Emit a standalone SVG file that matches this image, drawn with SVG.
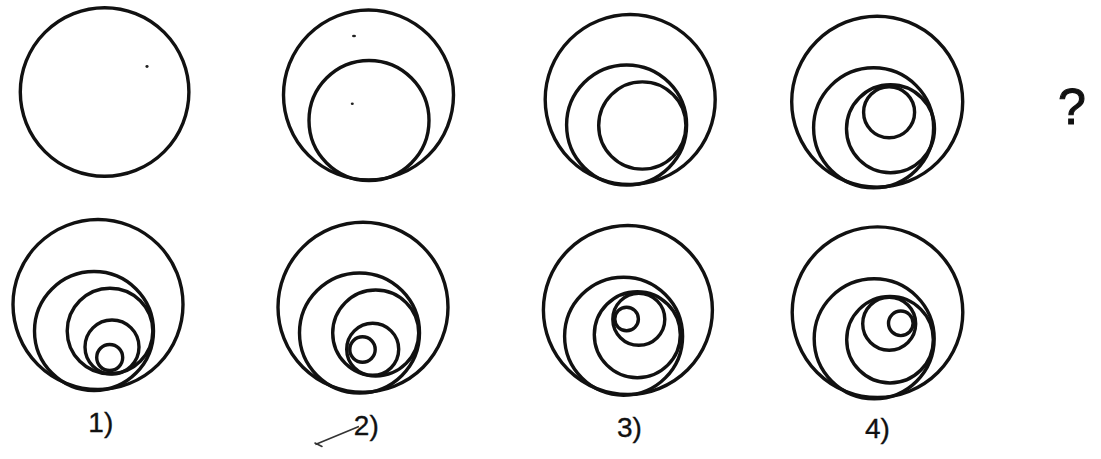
<svg xmlns="http://www.w3.org/2000/svg" width="1101" height="459" viewBox="0 0 1101 459">
<style>
.c{fill:none;stroke:#111;stroke-width:3.4}
.t{font-family:"Liberation Sans",Arial,sans-serif;fill:#111;stroke:#111;stroke-width:0.35;text-anchor:middle}
.lbl{font-size:28px}
.q{font-size:50px;stroke-width:1.1}
.dot{fill:#222}
</style>
<rect width="1101" height="459" fill="#ffffff"/>
<g id="figA">
<circle class="c" cx="104.6" cy="92" r="84.3"/>
<ellipse class="dot" cx="147" cy="66.5" rx="1.6" ry="1.4"/>
</g>
<g id="figB">
<circle class="c" cx="368.5" cy="95" r="85"/>
<circle class="c" cx="369" cy="120.5" r="60"/>
<ellipse class="dot" cx="354" cy="36" rx="2" ry="1.2"/>
<ellipse class="dot" cx="352.3" cy="103.7" rx="1.5" ry="1.3"/>
</g>
<g id="figC">
<circle class="c" cx="630.2" cy="99.5" r="85"/>
<circle class="c" cx="626.6" cy="125" r="60"/>
<circle class="c" cx="642.3" cy="125.5" r="43.6"/>
</g>
<g id="figD">
<circle class="c" cx="877.2" cy="101.7" r="85.5"/>
<circle class="c" cx="873.6" cy="127.8" r="60"/>
<circle class="c" cx="890.5" cy="128.8" r="44"/>
<circle class="c" cx="889.1" cy="112.3" r="25.5"/>
</g>
<g id="question">
<text class="t q" x="1072" y="123.5">?</text>
</g>
<g id="opt1">
<circle class="c" cx="98" cy="304.5" r="85"/>
<circle class="c" cx="94" cy="331" r="59.5"/>
<circle class="c" cx="110" cy="331" r="42.8"/>
<circle class="c" cx="112" cy="347" r="27"/>
<circle class="c" cx="109.7" cy="357.5" r="13"/>
<text class="t lbl" x="100.8" y="431.7">1)</text>
</g>
<g id="opt2">
<circle class="c" cx="363" cy="307.2" r="85"/>
<circle class="c" cx="359.5" cy="333" r="60"/>
<circle class="c" cx="375.7" cy="333" r="43"/>
<circle class="c" cx="372.7" cy="349.3" r="26"/>
<circle class="c" cx="362.5" cy="349.5" r="12.7"/>
<text class="t lbl" x="366.3" y="435">2)</text>
</g>
<g id="opt3">
<circle class="c" cx="627.9" cy="310" r="84.5"/>
<circle class="c" cx="623.6" cy="336.2" r="59"/>
<circle class="c" cx="637.3" cy="334.7" r="43"/>
<circle class="c" cx="638.8" cy="319.3" r="26"/>
<circle class="c" cx="626.6" cy="319" r="11.8"/>
<text class="t lbl" x="629.5" y="436.7">3)</text>
</g>
<g id="opt4">
<circle class="c" cx="877.5" cy="312.2" r="85.3"/>
<circle class="c" cx="874.2" cy="338.8" r="60"/>
<circle class="c" cx="890" cy="339.7" r="43.3"/>
<circle class="c" cx="889.2" cy="323.8" r="26.5"/>
<circle class="c" cx="900.8" cy="323.3" r="12.3"/>
<text class="t lbl" x="877.5" y="438.3">4)</text>
</g>
<g id="connectors">
<path d="M315 443 L322 446.5 M316 444.3 L358.3 426.7" fill="none" stroke="#333" stroke-width="1.6" stroke-linecap="round"/>
</g>
</svg>
